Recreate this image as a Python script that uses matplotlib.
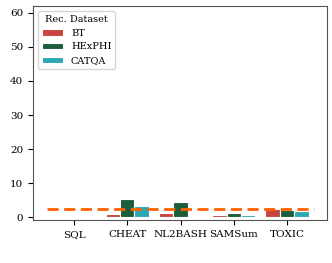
import matplotlib
matplotlib.use('Agg')
import matplotlib.pyplot as plt
import numpy as np

# data
tasks = ['SQL', 'CHEAT', 'NL2BASH', 'SAMSum', 'TOXIC']
datasets = ['BT', 'HExPHI', 'CATQA']
bt = [0.1, 1.1, 1.4, 0.8, 2.4]
hexphi = [0.2, 5.3, 4.4, 1.2, 2.0]
catqa = [0.1, 3.4, 0.5, 0.8, 1.9]
baseline = 2.5

colors = ['#c8443f', '#1d5e3a', '#2aa8b4']

plt.rcParams['font.family'] = 'DejaVu Serif'
fig = plt.figure(figsize=(3.32, 2.63), dpi=100)
ax = fig.add_axes([33 / 332, 43 / 263, 294 / 332, 214 / 263])

x = np.arange(len(tasks))
w = 0.27
for i, (vals, name) in enumerate(zip([bt, hexphi, catqa], datasets)):
    ax.bar(x + (i - 1) * w, vals, width=w, color=colors[i], edgecolor='white',
           linewidth=0.8, label=name, zorder=2)

ax.plot([-0.5, 4.5], [baseline, baseline], linestyle='--', color='#ff6000',
        linewidth=2, dashes=(4, 2), zorder=3)

ax.set_xlim(-0.77, 4.75)
ax.set_ylim(-0.8, 62)
ax.set_xticks(x)
ax.set_xticklabels(tasks, fontsize=7.5)
ax.set_yticks([0, 10, 20, 30, 40, 50, 60])
ax.tick_params(axis='y', labelsize=7.5)
for s in ax.spines.values():
    s.set_color('#555555')

ax.legend(title='Rec. Dataset', loc='upper left', fontsize=7, title_fontsize=7,
          handlelength=2.2, framealpha=0.8)

fig.savefig('out.png', dpi=100)
